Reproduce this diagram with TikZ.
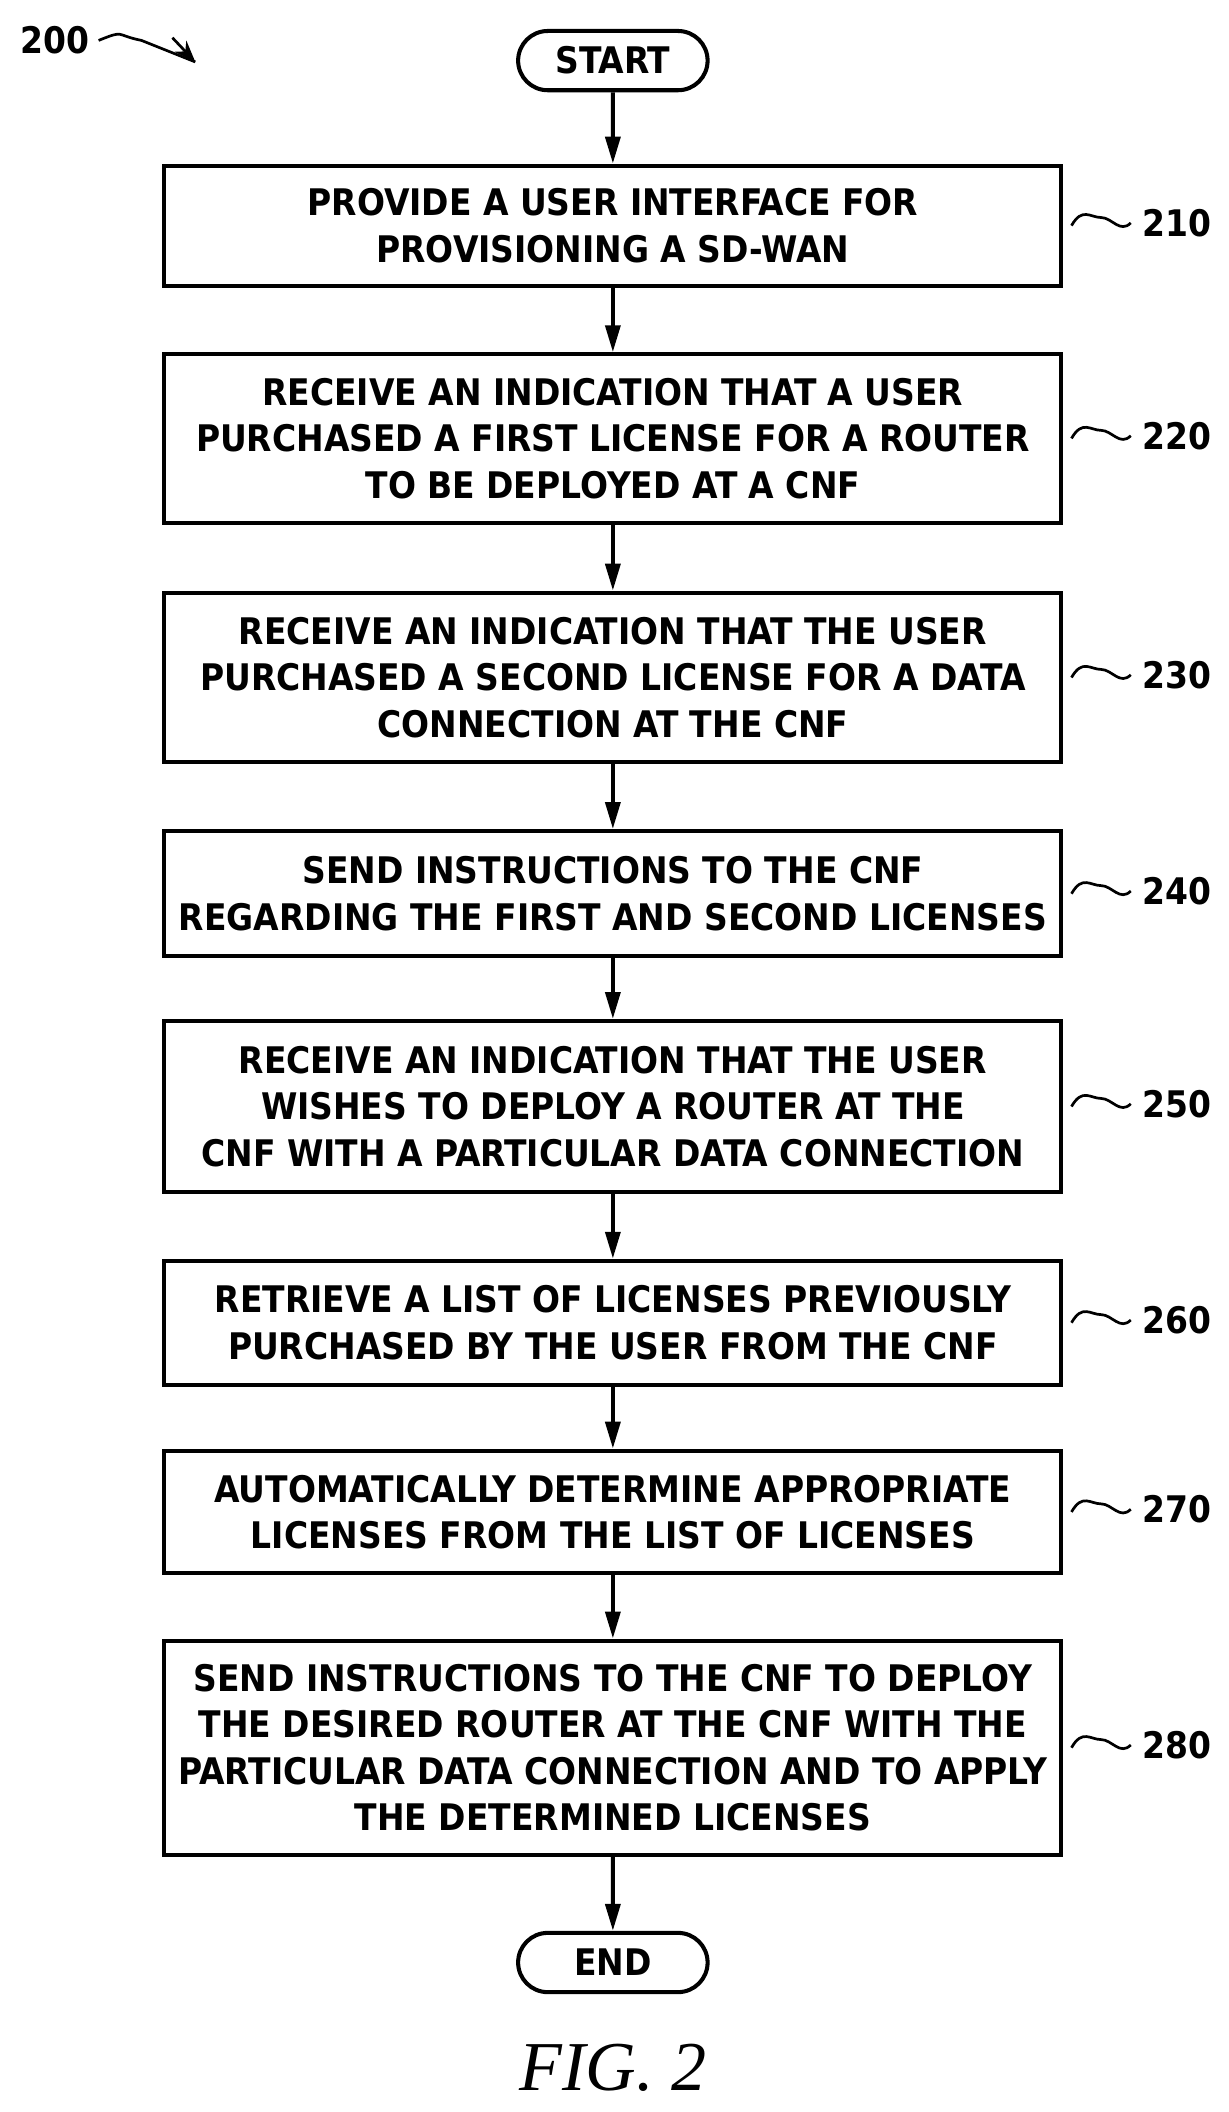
\documentclass[tikz,border=0pt]{standalone}
\usepackage{fontspec}
\setmainfont{DejaVu Sans Condensed}
\usetikzlibrary{arrows.meta,shapes.misc}
\begin{document}
\begin{tikzpicture}[x=0.5pt,y=-0.5pt,
 box/.style={draw,line width=1.5pt,minimum width=333pt,align=center,font=\fontsize{13.6}{17.2}\selectfont\bfseries,inner sep=0pt},
 term/.style={draw,line width=1.5pt,rounded rectangle,minimum width=77pt,minimum height=22pt,font=\fontsize{13.6}{15}\selectfont\bfseries},
 arr/.style={line width=1.5pt,-{Triangle[length=10pt,width=5.5pt]}},
 lab/.style={font=\fontsize{13.6}{15}\selectfont\bfseries,anchor=west},
 sq/.style={line width=1pt}]
\useasboundingbox (0,0) rectangle (912,1568);
\node[term] (s) at (455,45) {START};
\node[box,minimum height=44.5pt] (b1) at (455,167.5) {PROVIDE A USER INTERFACE FOR\\PROVISIONING A SD-WAN};
\node[box,minimum height=62.5pt] (b2) at (455,325.5) {RECEIVE AN INDICATION THAT A USER\\PURCHASED A FIRST LICENSE FOR A ROUTER\\TO BE DEPLOYED AT A CNF};
\node[box,minimum height=63pt] (b3) at (455,503) {RECEIVE AN INDICATION THAT THE USER\\PURCHASED A SECOND LICENSE FOR A DATA\\CONNECTION AT THE CNF};
\node[box,minimum height=46.5pt] (b4) at (455,663.5) {SEND INSTRUCTIONS TO THE CNF\\REGARDING THE FIRST AND SECOND LICENSES};
\node[box,minimum height=63.5pt] (b5) at (455,821.5) {RECEIVE AN INDICATION THAT THE USER\\WISHES TO DEPLOY A ROUTER AT THE\\CNF WITH A PARTICULAR DATA CONNECTION};
\node[box,minimum height=46pt] (b6) at (455,982) {RETRIEVE A LIST OF LICENSES PREVIOUSLY\\PURCHASED BY THE USER FROM THE CNF};
\node[box,minimum height=45.5pt] (b7) at (455,1122.5) {AUTOMATICALLY DETERMINE APPROPRIATE\\LICENSES FROM THE LIST OF LICENSES};
\node[box,minimum height=79.5pt] (b8) at (455,1297.5) {SEND INSTRUCTIONS TO THE CNF TO DEPLOY\\THE DESIRED ROUTER AT THE CNF WITH THE\\PARTICULAR DATA CONNECTION AND TO APPLY\\THE DETERMINED LICENSES};
\node[term] (e) at (455,1457) {END};
\foreach \a/\b in {s/b1,b1/b2,b2/b3,b3/b4,b4/b5,b5/b6,b6/b7,b7/b8,b8/e} \draw[arr] (\a) -- (\b);
\foreach \n/\t in {b1/210,b2/220,b3/230,b4/240,b5/250,b6/260,b7/270,b8/280}{
 \draw[sq] ([xshift=3pt]\n.east) .. controls +(8,-14) and +(-8,0) .. ++(22,-6) .. controls +(8,0) and +(-8,8) .. ++(22,4) coordinate (c\n);
 \node[lab] (l\n) at ([xshift=1pt]c\n) {\t};}
\node[lab] (l200) at (8,30) {200};
\coordinate (a200) at (145,46);
\draw[sq] (l200.east) .. controls +(20,-8) and +(-20,-4) .. (105,30) -- (a200);
\draw[sq,-{Stealth[length=8pt]}] (128,28) -- (a200);
\node[font=\fontsize{26}{30}\selectfont\itshape\fontspec{Liberation Serif}] (fig) at (455,1535) {FIG. 2};
\end{tikzpicture}
\end{document}
